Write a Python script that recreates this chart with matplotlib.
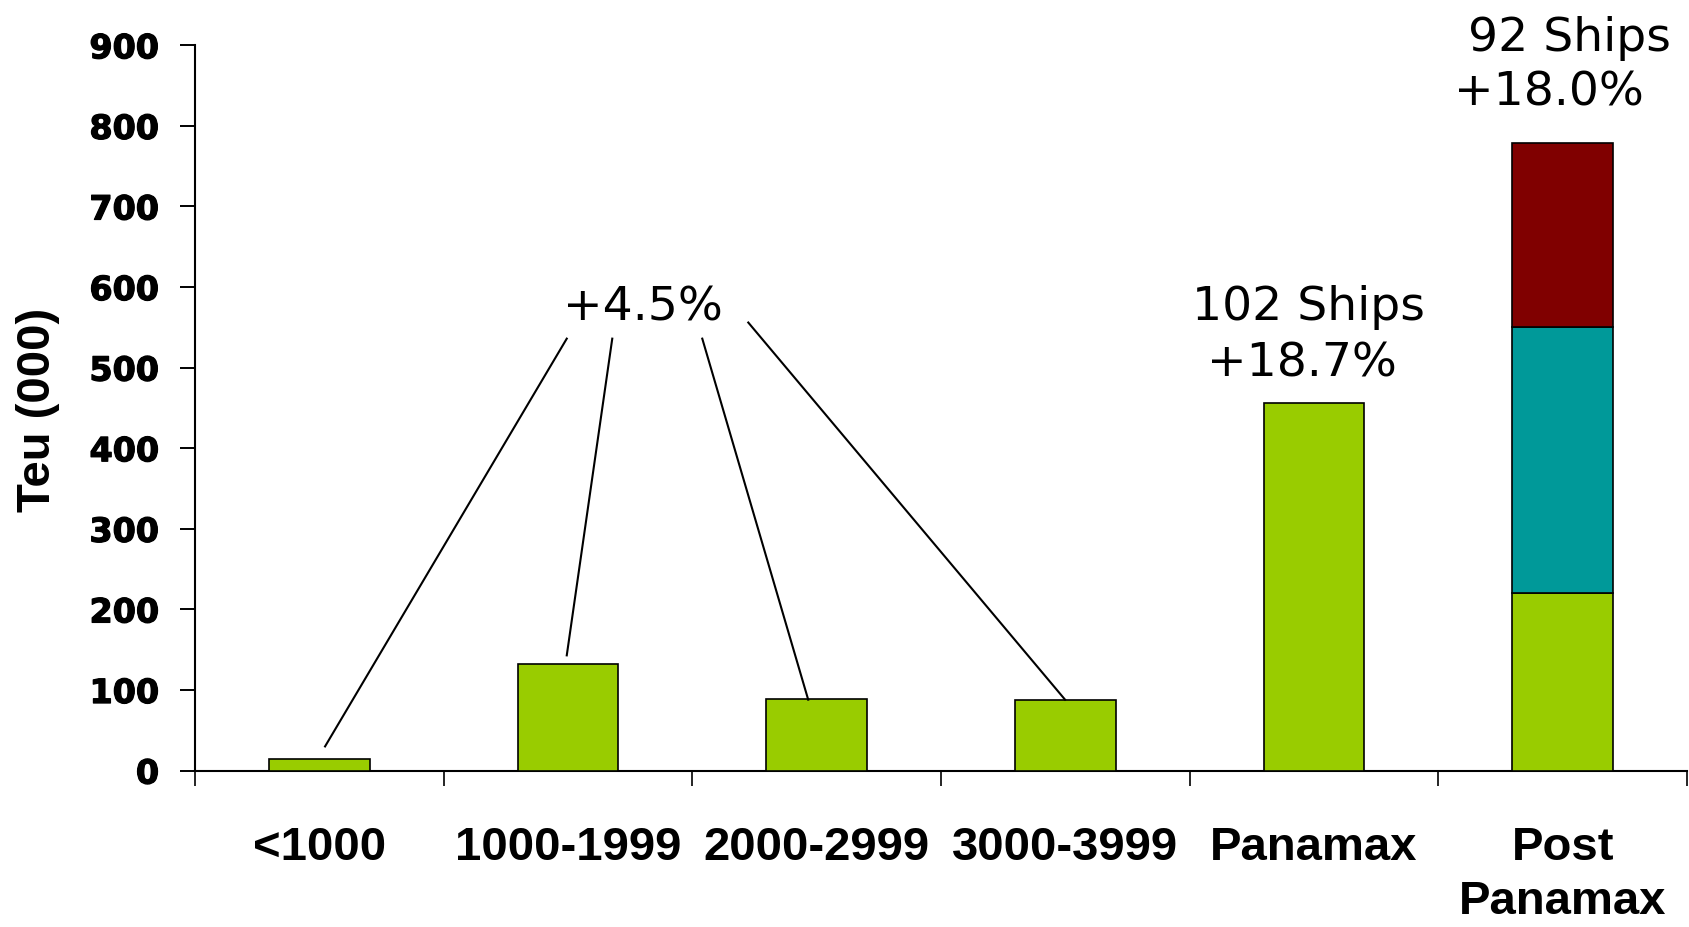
import matplotlib
matplotlib.use("Agg")
import matplotlib.pyplot as plt
import matplotlib.patheffects as pe
import numpy as np

# Fleet capacity by ship size class, Teu (000)
categories = ["<1000", "1000-1999", "2000-2999", "3000-3999", "Panamax", "Post\nPanamax"]
base_teu = [15, 132, 89, 87, 456, 220]          # green segment of every bar
post_mid_teu = [0, 0, 0, 0, 0, 331]             # teal segment (Post Panamax only)
post_top_teu = [0, 0, 0, 0, 0, 228]             # dark red segment (Post Panamax only)
y_ticks = [0, 100, 200, 300, 400, 500, 600, 700, 800, 900]

growth_small = "+4.5%"
panamax_note = ["102 Ships", "+18.7%"]
post_note = ["92 Ships", "+18.0%"]

GREEN = "#99CC00"
TEAL = "#009999"
DARKRED = "#800000"

fig = plt.figure(figsize=(16.9, 9.27), dpi=100)
ax = fig.add_axes([195 / 1690, 1 - 770.6 / 927, 1492 / 1690, (770.6 - 45.3) / 927])

x = np.arange(len(categories))
width = 0.405
bar_kw = dict(width=width, edgecolor="black", linewidth=1.2, zorder=3)
ax.bar(x, base_teu, color=GREEN, **bar_kw)
mid = np.array(post_mid_teu)
top = np.array(post_top_teu)
mask = mid > 0
ax.bar(x[mask], mid[mask], bottom=np.array(base_teu)[mask], color=TEAL, **bar_kw)
ax.bar(x[mask], top[mask], bottom=(np.array(base_teu) + mid)[mask], color=DARKRED, **bar_kw)

ax.set_xlim(-0.5, len(categories) - 0.5)
ax.set_ylim(0, 900)

# Axes styling
for side in ("top", "right"):
    ax.spines[side].set_visible(False)
for side in ("left", "bottom"):
    ax.spines[side].set_linewidth(1.5)

ax.set_yticks(y_ticks)
ax.set_yticklabels([str(v) for v in y_ticks], fontfamily="DejaVu Sans",
                   fontweight="bold", fontsize=24)
for lbl in ax.get_yticklabels():
    lbl.set_path_effects([pe.withStroke(linewidth=0.9, foreground="black")])
ax.tick_params(axis="y", direction="out", length=10.8, width=1.4, pad=15)

ax.set_xticks(x)
ax.set_xticklabels(categories, fontfamily="Liberation Sans", fontweight="bold",
                   fontsize=34, linespacing=1.3)
ax.tick_params(axis="x", which="major", length=0, pad=40)
ax.set_xticks(np.arange(len(categories) + 1) - 0.5, minor=True)
ax.tick_params(axis="x", which="minor", direction="out", length=10.8, width=1.2)

ax.set_ylabel("Teu (000)", fontfamily="Liberation Sans", fontweight="bold", fontsize=34)
ax.yaxis.set_label_coords(-0.1054, 0.498)
ax.yaxis.label.set_verticalalignment("center")

# Shared growth label for the smaller size classes, with leader lines
note_kw = dict(fontfamily="DejaVu Sans", fontsize=34, ha="center", va="baseline",
               color="black", clip_on=False)
ax.text(1.303, 558, growth_small, **note_kw)
leaders = [
    ((0.995, 536), (0.023, 30)),
    ((1.178, 536), (0.995, 143)),
    ((1.540, 536), (1.966, 88)),
    ((1.725, 556), (2.999, 88)),
]
for (x0, y0), (x1, y1) in leaders:
    ax.plot([x0, x1], [y0, y1], color="black", linewidth=1.5, zorder=4,
            clip_on=False)

# Notes above the two largest classes
ax.text(3.978, 559, panamax_note[0], **note_kw)
ax.text(3.952, 489, panamax_note[1], **note_kw)
ax.text(5.028, 893, post_note[0], **note_kw)
ax.text(4.946, 825, post_note[1], **note_kw)

fig.savefig("out.png", dpi=100)
